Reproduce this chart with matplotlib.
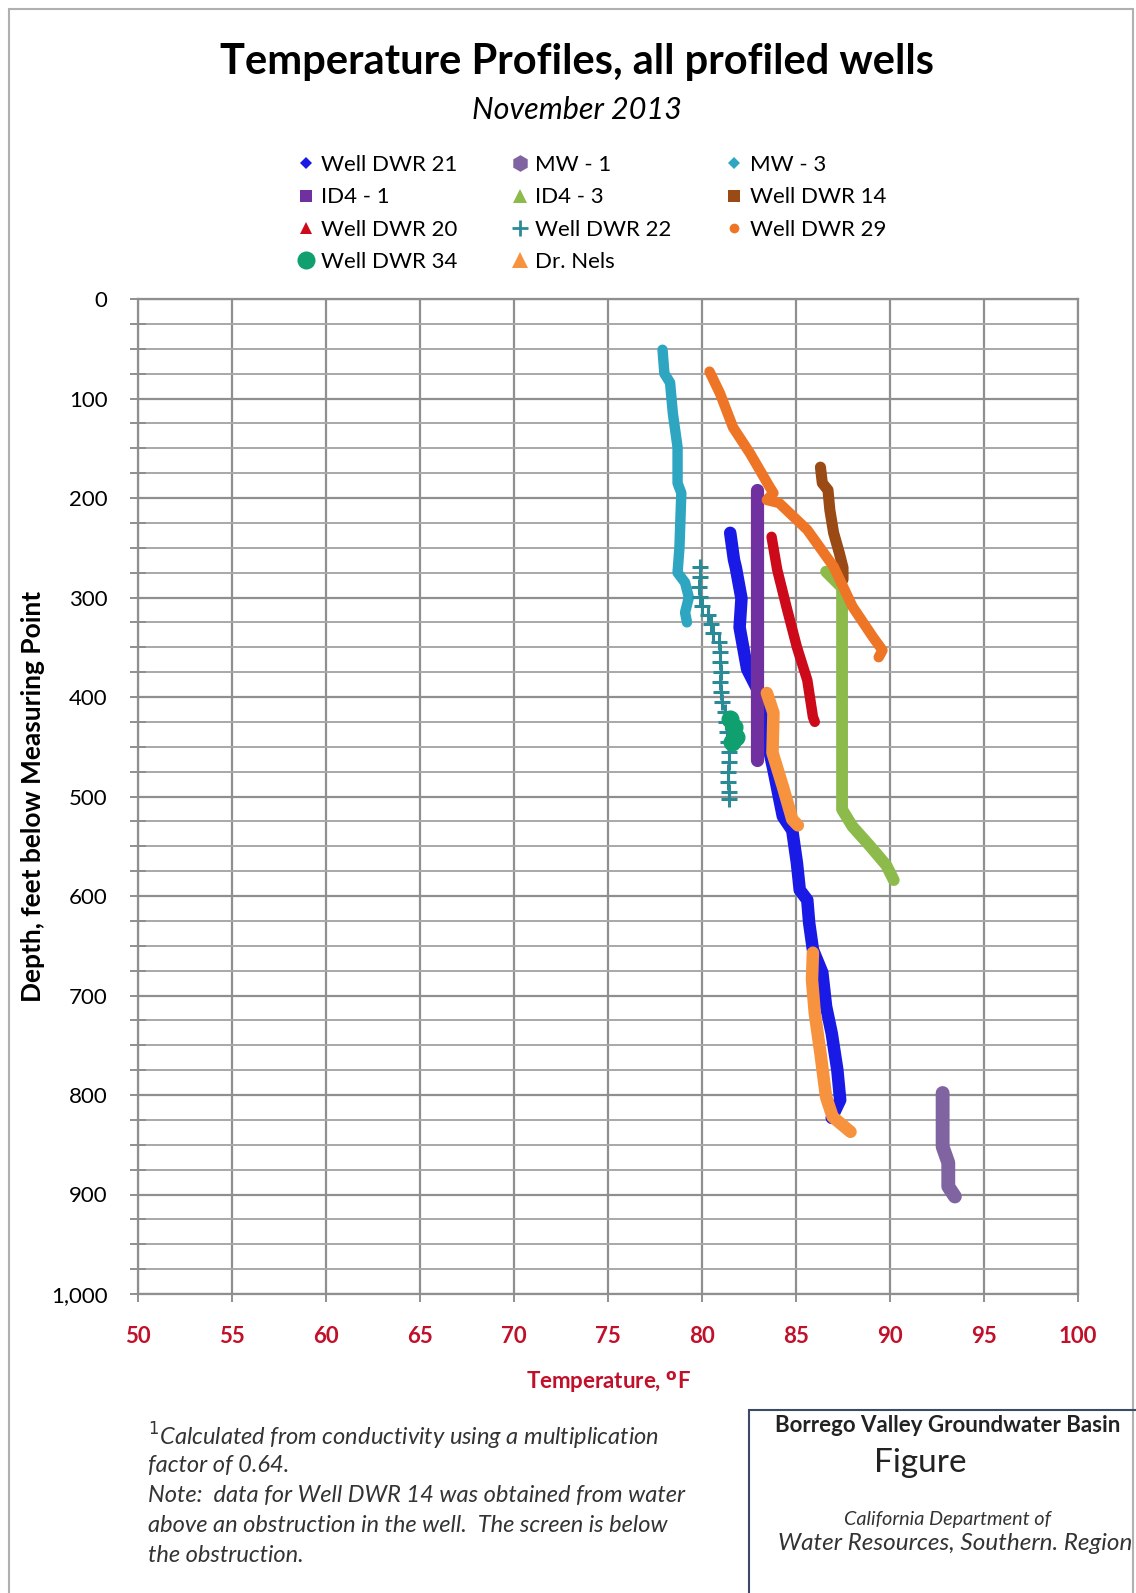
import numpy as np
import matplotlib.pyplot as plt
from matplotlib.lines import Line2D
from matplotlib.patches import Rectangle

nan = np.nan

# temperature (deg F) / depth (ft)
dwr21_t = [81.5, 81.7, 81.8, 82.1, 82.0, 82.4, 83.1, 83.3, 83.8, 84.3, 84.8, 85.05, 85.2, 85.6,
           85.7, 85.9, 86.4, 86.6, 86.9, 87.2, 87.35, 86.9]
dwr21_d = [235, 262, 270, 301, 330, 372, 398, 430, 473, 520, 534, 567, 594, 604,
           627, 654, 677, 711, 738, 775, 805, 823]

mw1_t = [92.8, 92.8, 93.1, 93.1, 93.45]
mw1_d = [798, 852, 868, 892, 902]

mw3_t = [77.9, 78.0, 78.3, 78.45, 78.7, 78.7, 78.9, 78.8, 78.7, 79.1, 79.3, 79.1, 79.2]
mw3_d = [51, 75, 84, 115, 149, 185, 195, 250, 275, 285, 300, 315, 325]

id41_t = [82.9, 82.9]
id41_d = [192, 463]

id43_t = [86.6, 87.45, 87.45, 88.0, 88.9, 89.8, 90.2]
id43_d = [274, 290, 513, 530, 549, 569, 584]

dwr14_t = [86.3, 86.4, 86.7, 86.8, 87.0, 87.3, 87.5, 87.5]
dwr14_d = [169, 185, 192, 212, 235, 255, 270, 282]

dwr20_t = [83.7, 84.0, 84.5, 85.05, 85.6, 85.9, 86.0]
dwr20_d = [239, 272, 310, 350, 383, 420, 425]

dwr22_t = [79.9, 79.9, 79.85, 79.9, 80.0, 80.3, 80.5, 80.6, 80.9, 80.95, 80.95, 81.0, 80.95,
           81.0, 81.05, 81.2, 81.3, 81.35, 81.4, 81.45, 81.45, 81.4, 81.4, 81.45, 81.45]
dwr22_d = [269, 279, 289, 299, 309, 318, 327, 336, 345, 355, 365, 375, 385,
           395, 405, 415, 425, 435, 445, 455, 465, 475, 485, 495, 503]

dwr29_t = [80.4, 80.96, 81.65, 82.55, 83.6, 83.8, 83.45, 84.1, 85.6, 87.0, 88.0, 89.1, 89.6, 89.4]
dwr29_d = [73, 95, 129, 155, 189, 195, 202, 205, 232, 269, 309, 340, 353, 360]

dwr34_t = [81.5, 81.7, 81.8, 81.6]
dwr34_d = [422, 430, 440, 445]

nels_t = [83.45, 83.8, 83.75, 84.3, 84.8, 85.1, nan, 85.9, 85.85, 86.0, 86.3, 86.6, 86.95, 87.9]
nels_d = [396, 416, 456, 490, 523, 529, nan, 657, 684, 718, 758, 802, 822, 837]

x_ticks = [50, 55, 60, 65, 70, 75, 80, 85, 90, 95, 100]
y_ticks = [0, 100, 200, 300, 400, 500, 600, 700, 800, 900, 1000]
y_labels = ['0', '100', '200', '300', '400', '500', '600', '700', '800', '900', '1,000']

plt.rcParams['font.family'] = ['Lato', 'DejaVu Sans']

fig = plt.figure(figsize=(11.36, 15.93), dpi=100)
ax = fig.add_axes([138 / 1136, 1 - 1294 / 1593, 940 / 1136, 995 / 1593])

# outer frame of the figure page
fig.patches.append(Rectangle((9 / 1136, -0.01), 1124 / 1136, 1 - 9 / 1593 + 0.01,
                             transform=fig.transFigure, fill=False, ec='#b0b0b0', lw=1.5))

# series: (t, d, color, linewidth, label, marker, marker size)
series = [
    (dwr21_t, dwr21_d, '#1a1ae6', 9, 'Well DWR 21', 'D', 6),
    (mw1_t, mw1_d, '#8064a2', 10, 'MW - 1', 'h', 12),
    (mw3_t, mw3_d, '#2ea6c2', 7.5, 'MW - 3', 'D', 6),
    (id41_t, id41_d, '#7030a0', 9.5, 'ID4 - 1', 's', 9),
    (id43_t, id43_d, '#8cbb4c', 8.5, 'ID4 - 3', '^', 10),
    (dwr14_t, dwr14_d, '#9a4a14', 8, 'Well DWR 14', 's', 9),
    (dwr20_t, dwr20_d, '#cc0a1a', 7.5, 'Well DWR 20', '^', 9),
    (dwr22_t, dwr22_d, '#2a8a96', 0, 'Well DWR 22', '+', 12),
    (dwr29_t, dwr29_d, '#ee7426', 7.5, 'Well DWR 29', 'o', 7),
    (dwr34_t, dwr34_d, '#10a070', 0, 'Well DWR 34', 'o', 13),
    (nels_t, nels_d, '#f7923e', 9, 'Dr. Nels', '^', 11),
]

handles = {}
for i, (t, d, c, lw, lab, mk, ms) in enumerate(series):
    z = 3 + i
    if lab == 'Well DWR 22':
        ax.plot(t, d, ls='none', marker='+', ms=12, mew=2.2, color=c, zorder=z)
    elif lab == 'Well DWR 34':
        ax.plot(t, d, ls='none', marker='o', ms=12, color=c, zorder=z)
    else:
        ax.plot(t, d, color=c, lw=lw, solid_capstyle='round', solid_joinstyle='round', zorder=z)
    mew = 2 if mk == '+' else 0
    handles[lab] = Line2D([], [], ls='none', marker=mk, ms=ms, mew=mew, color=c, label=lab)

ax.set_xlim(50, 100)
ax.set_ylim(1000, 0)
ax.set_xticks(x_ticks)
ax.set_yticks(y_ticks)
ax.set_yticks(np.arange(0, 1001, 25), minor=True)
ax.set_yticklabels(y_labels)

ax.grid(True, which='major', color='#8f8f8f', lw=1.6)
ax.grid(True, which='minor', axis='y', color='#a8a8a8', lw=1.4)
ax.set_axisbelow(True)
for s in ax.spines.values():
    s.set_color('#8f8f8f')
    s.set_linewidth(1.6)

ax.tick_params(axis='y', which='both', direction='inout', length=12, width=1.4, color='#8f8f8f',
               labelsize=16, pad=16)
ax.tick_params(axis='x', which='both', direction='inout', length=12, width=1.4, color='#8f8f8f',
               labelsize=16, labelcolor='#c0102a', pad=17)
for lbl in ax.get_xticklabels():
    lbl.set_fontweight('bold')

ax.set_xlabel(r'Temperature, $^{\mathbf{o}}$F', color='#c0102a', fontsize=16, fontweight='bold',
              labelpad=16)
ax.set_ylabel('Depth, feet below Measuring Point', fontsize=19, fontweight='bold', labelpad=4)

order = ['Well DWR 21', 'ID4 - 1', 'Well DWR 20', 'Well DWR 34',
         'MW - 1', 'ID4 - 3', 'Well DWR 22', 'Dr. Nels',
         'MW - 3', 'Well DWR 14', 'Well DWR 29']
leg = fig.legend(handles=[handles[k] for k in order], ncol=3, loc='upper left',
                 bbox_to_anchor=(288 / 1136, 1 - 144 / 1593), frameon=False, fontsize=16,
                 handlelength=0.6, handletextpad=0.4, columnspacing=2.5, labelspacing=0.55,
                 borderpad=0)

fig.text(577 / 1136, 1 - 62 / 1593, 'Temperature Profiles, all profiled wells', ha='center',
         va='center', fontsize=30, fontweight='bold')
fig.text(577 / 1136, 1 - 110 / 1593, 'November 2013', ha='center', va='center', fontsize=22,
         style='italic')

notes = ['$^{1}$Calculated from conductivity using a multiplication',
         'factor of 0.64.',
         'Note:  data for Well DWR 14 was obtained from water',
         'above an obstruction in the well.  The screen is below',
         'the obstruction.']
for i, line in enumerate(notes):
    fig.text(148 / 1136, 1 - (1436 + 29.8 * i) / 1593, line, ha='left', va='center', fontsize=17,
             style='italic', color='#333333')

fig.patches.append(Rectangle((749 / 1136, -0.01), 0.4, 1 - 1410 / 1593 + 0.01,
                             transform=fig.transFigure, fill=False, ec='#3c4a66', lw=1.5))
fig.text(948 / 1136, 1 - 1426 / 1593, 'Borrego Valley Groundwater Basin', ha='center', va='center',
         fontsize=16, fontweight='bold', color='#222222')
fig.text(920 / 1136, 1 - 1463 / 1593, 'Figure', ha='center', va='center', fontsize=24,
         color='#222222')
fig.text(947 / 1136, 1 - 1519 / 1593, 'California Department of', ha='center', va='center',
         fontsize=14.3, style='italic', color='#333333')
fig.text(955 / 1136, 1 - 1543 / 1593, 'Water Resources, Southern. Region', ha='center',
         va='center', fontsize=17.5, style='italic', color='#333333')

fig.savefig('out.png', dpi=100, facecolor='white')
